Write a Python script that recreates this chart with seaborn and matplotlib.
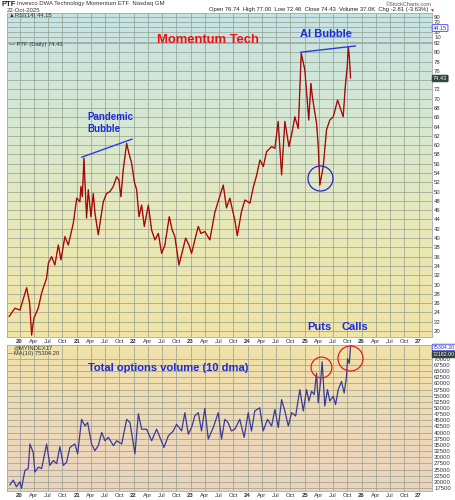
import pandas as pd
import numpy as np
import matplotlib
matplotlib.use("Agg")
import matplotlib.pyplot as plt
import seaborn as sns

# PTF daily close
price_dates = [
    "2019-10-25", "2019-12-02", "2020-01-03", "2020-02-15", "2020-03-05", "2020-03-18",
    "2020-03-25", "2020-04-02", "2020-04-30", "2020-05-21", "2020-06-22", "2020-07-03",
    "2020-07-24", "2020-08-14", "2020-09-05", "2020-09-22", "2020-10-17", "2020-11-08",
    "2020-12-10",
    "2021-01-01", "2021-01-21", "2021-01-28", "2021-02-06", "2021-02-16", "2021-03-05",
    "2021-03-16", "2021-04-02", "2021-04-17", "2021-04-28", "2021-05-19", "2021-06-20",
    "2021-07-11", "2021-08-02", "2021-08-23", "2021-09-14", "2021-09-28", "2021-10-11",
    "2021-10-26", "2021-11-17", "2021-12-01", "2021-12-19",
    "2022-01-05", "2022-01-20", "2022-02-04", "2022-02-21", "2022-03-10", "2022-04-05",
    "2022-04-26", "2022-05-17", "2022-06-08", "2022-06-29", "2022-07-20", "2022-08-17",
    "2022-09-05", "2022-09-22", "2022-10-18", "2022-11-09", "2022-11-30", "2022-12-21",
    "2023-01-07", "2023-02-02", "2023-02-19", "2023-03-08", "2023-04-02", "2023-05-04",
    "2023-06-05", "2023-07-07", "2023-07-29", "2023-08-19", "2023-09-09", "2023-10-11",
    "2023-10-27", "2023-11-23", "2023-12-15",
    "2024-01-16", "2024-02-07", "2024-02-28", "2024-03-20", "2024-04-11", "2024-05-02",
    "2024-06-03", "2024-06-24", "2024-07-15", "2024-08-06", "2024-08-27", "2024-09-22",
    "2024-10-09", "2024-10-30", "2024-11-21", "2024-12-10",
    "2025-01-02", "2025-01-27", "2025-02-10", "2025-02-19", "2025-03-18", "2025-03-29",
    "2025-04-08", "2025-04-30", "2025-05-21", "2025-06-11", "2025-07-03", "2025-07-31",
    "2025-08-21", "2025-09-05", "2025-09-18", "2025-09-30", "2025-10-08", "2025-10-15",
    "2025-10-22",
]
price_close = [
    23.1, 24.9, 24.5, 29.3, 26.0, 19.1,
    21.0, 22.8, 25.0, 28.2, 31.4, 34.6,
    36.0, 34.2, 38.5, 35.3, 40.3, 38.5,
    43.2,
    48.6, 47.8, 51.1, 48.9, 57.2, 44.3,
    50.4, 44.6, 49.6, 45.3, 40.7, 47.8,
    49.6, 50.0, 51.1, 53.2, 52.5, 48.9,
    54.7, 60.4, 58.3, 56.1,
    52.1, 50.4, 44.6, 47.1, 42.5, 47.1,
    41.7, 39.6, 41.0, 36.7, 38.5, 44.6,
    41.7, 40.3, 34.2, 37.1, 40.0, 38.5,
    36.7, 40.3, 42.5, 41.0, 41.4, 39.6,
    45.5, 49.0, 51.4, 46.5, 48.6, 43.9,
    40.5, 45.7, 48.2,
    47.5, 51.0, 53.5, 56.8, 55.4, 58.6,
    59.7, 59.3, 65.1, 53.6, 65.1, 59.7,
    62.2, 66.1, 63.6, 79.8,
    76.2, 65.4, 73.3, 70.4, 64.7, 59.7,
    51.4, 55.4, 63.3, 65.4, 66.1, 69.7,
    67.6, 66.1, 72.6, 76.6, 81.2, 78.5,
    74.43,
]

# total options volume, 10 day moving average
vol_dates = [
    "2019-10-30", "2019-11-21", "2019-12-12", "2020-01-02", "2020-01-13", "2020-02-04",
    "2020-02-25", "2020-03-07", "2020-03-28", "2020-04-08", "2020-04-30", "2020-05-21",
    "2020-06-22", "2020-07-13", "2020-08-04", "2020-08-25", "2020-09-15", "2020-10-07",
    "2020-10-28", "2020-11-18", "2020-12-20",
    "2021-01-07", "2021-02-01", "2021-02-23", "2021-03-12", "2021-04-06", "2021-04-27",
    "2021-05-19", "2021-06-10", "2021-07-01", "2021-07-23", "2021-08-24", "2021-09-14",
    "2021-10-16", "2021-11-17", "2021-12-08",
    "2022-01-09", "2022-01-31", "2022-02-21", "2022-03-25", "2022-04-26", "2022-05-28",
    "2022-06-18", "2022-07-14", "2022-08-11", "2022-09-12", "2022-10-03", "2022-11-04",
    "2022-11-25", "2022-12-17",
    "2023-01-07", "2023-01-28", "2023-02-19", "2023-03-12", "2023-04-02", "2023-04-24",
    "2023-05-26", "2023-06-27", "2023-07-18", "2023-08-08", "2023-08-29", "2023-09-19",
    "2023-10-11", "2023-11-12", "2023-12-10",
    "2024-01-05", "2024-01-26", "2024-02-16", "2024-03-19", "2024-04-10", "2024-05-08",
    "2024-06-03", "2024-06-24", "2024-07-16", "2024-08-06", "2024-08-27", "2024-09-18",
    "2024-10-09", "2024-11-04", "2024-12-01", "2024-12-23",
    "2025-01-13", "2025-01-28", "2025-02-14", "2025-03-03", "2025-03-18", "2025-03-29",
    "2025-04-14", "2025-04-23", "2025-05-10", "2025-05-27", "2025-06-11", "2025-07-03",
    "2025-07-18", "2025-08-04", "2025-08-25", "2025-09-11", "2025-09-26", "2025-10-03",
    "2025-10-14", "2025-10-22",
]
vol_ma10 = [
    18700, 20700, 18000, 20000, 17400, 24700,
    25400, 35400, 32000, 24000, 26000, 25400,
    35400, 26700, 28700, 27400, 34300, 26700,
    28000, 34000, 35400,
    31400, 45400, 42700, 44100, 35400, 32700,
    34700, 40100, 36700, 38100, 34700, 36700,
    35400, 45400, 44100,
    31400, 47700, 41400, 41400, 36700, 41400,
    38100, 34000, 38700, 40700, 43400, 40700,
    48100, 39400,
    42100, 46800, 48100, 40700, 49800, 37400,
    42100, 48100, 37400, 45400, 44100, 40700,
    41400, 45400, 38100,
    48100, 40700, 48800, 50100, 40700, 45400,
    42700, 49400, 42100, 53400, 48800, 42700,
    48100, 46800, 57500, 48800,
    57500, 52800, 56800, 55500, 64100, 52100,
    61500, 68800, 50800, 57500, 52800, 54800,
    51400, 57500, 60800, 56100, 62800, 70100,
    68100, 75300,
]

price = pd.DataFrame({"date": pd.to_datetime(price_dates), "close": price_close})
vol = pd.DataFrame({"date": pd.to_datetime(vol_dates), "ma10": vol_ma10})

sns.set_style("white")
plt.rcParams["font.family"] = ["Liberation Sans", "DejaVu Sans"]

W, H = 455, 500
fig = plt.figure(figsize=(W / 100, H / 100), dpi=100)


def box(x0, y0, x1, y1):
    # pixel box -> figure fraction
    return [x0 / W, 1 - y1 / H, (x1 - x0) / W, (y1 - y0) / H]


def gradient(rect, colors):
    bg = fig.add_axes(rect, zorder=0)
    cm = matplotlib.colors.LinearSegmentedColormap.from_list("g", colors)
    bg.imshow(np.linspace(0, 1, 256).reshape(-1, 1), cmap=cm, aspect="auto",
              extent=[0, 1, 0, 1])
    bg.set_axis_off()


gradient(box(7, 13, 432, 337), ["#c6e3e4", "#d6e8d2", "#e8e8b8", "#f1e4a6"])
gradient(box(7, 345, 432, 491), ["#f1e2a8", "#efdab6", "#ecd3bf"])

ax_rsi = fig.add_axes(box(7, 13, 432, 42), zorder=1)
ax_p = fig.add_axes(box(7, 42, 432, 337), zorder=1)
ax_v = fig.add_axes(box(7, 345, 432, 491), zorder=1)

xmin, xmax = pd.Timestamp("2019-10-12"), pd.Timestamp("2027-03-28")
ticks, labels = [], []
for yr in range(2020, 2028):
    for m, name in [(1, None), (4, "Apr"), (7, "Jul"), (10, "Oct")]:
        t = pd.Timestamp(yr, m, 1)
        if xmin <= t <= xmax:
            ticks.append(t)
            labels.append(name if name else str(yr)[2:])

grid_col = (0.58, 0.62, 0.56, 0.2)
for ax in (ax_rsi, ax_p, ax_v):
    ax.set_facecolor("none")
    ax.set_xlim(xmin, xmax)
    ax.set_xticks(ticks)
    ax.yaxis.tick_right()
    ax.tick_params(axis="both", length=0, labelsize=4.3, pad=1.5, colors="#333333")
    ax.grid(True, color=grid_col, linewidth=0.5)
    for s in ax.spines.values():
        s.set_color("#a4aaa8")
        s.set_linewidth(0.6)

for ax in (ax_p, ax_v):
    ax.set_xticklabels(labels)
    for lab in ax.get_xticklabels():
        if lab.get_text().isdigit():
            lab.set_fontweight("bold")
ax_rsi.set_xticklabels([])

ax_rsi.set_ylim(-10, 104)
ax_rsi.set_yticks([10, 30, 50, 70, 90])
ax_rsi.set_yticklabels(["10", "30", "", "70", "90"])

sns.lineplot(data=price, x="date", y="close", ax=ax_p, color="#d00000",
             linewidth=0.95, zorder=3)
sns.lineplot(data=price, x="date", y="close", ax=ax_p, color="#402828",
             linewidth=0.25, zorder=4)
ax_p.set_ylim(18.7, 82.2)
pticks = np.arange(20, 83, 2)
ax_p.set_yticks(pticks)
ax_p.set_yticklabels(["" if t == 74 else str(t) for t in pticks])
ax_p.set_xlabel("")
ax_p.set_ylabel("")

sns.lineplot(data=vol, x="date", y="ma10", ax=ax_v, color="#3a3a9a",
             linewidth=0.9, zorder=3)
ax_v.set_ylim(16300, 75600)
ax_v.set_yticks(np.arange(17500, 70001, 2500))
ax_v.set_xlabel("")
ax_v.set_ylabel("")

# trend lines and circles
ax_p.plot(pd.to_datetime(["2021-02-01", "2021-12-22"]), [57.4, 61.3],
          color="#2b3bdc", linewidth=1.0, zorder=5)
ax_p.plot(pd.to_datetime(["2024-12-05", "2025-11-23"]), [80.0, 81.35],
          color="#2b3bdc", linewidth=1.0, zorder=5)
ax_p.plot([pd.Timestamp("2025-04-12")], [53.0], marker="o", markersize=18,
          markerfacecolor="none", markeredgecolor="#2424d0", markeredgewidth=0.9,
          zorder=5)
ax_v.plot([pd.Timestamp("2025-04-14")], [66800], marker="o", markersize=15,
          markerfacecolor="none", markeredgecolor="#e02020", markeredgewidth=0.9,
          zorder=5)
ax_v.plot([pd.Timestamp("2025-10-18")], [70400], marker="o", markersize=18,
          markerfacecolor="none", markeredgecolor="#e02020", markeredgewidth=0.9,
          zorder=5)


def ftxt(x, y, s, **kw):
    fig.text(x / W, 1 - y / H, s, **kw)


# annotations
ftxt(208, 40, "Momentum Tech", color="#ee1111", fontsize=9.4, fontweight="bold",
     ha="center", va="center")
ftxt(326, 34, "AI Bubble", color="#1a2ae0", fontsize=8, fontweight="bold",
     ha="center", va="center")
ftxt(87, 117, "Pandemic", color="#1a2ae0", fontsize=7, fontweight="bold", va="center")
ftxt(87, 128.5, "Bubble", color="#1a2ae0", fontsize=7, fontweight="bold", va="center")
ftxt(307, 327, "Puts", color="#1a2ae0", fontsize=8, fontweight="bold", va="center")
ftxt(341, 327, "Calls", color="#1a2ae0", fontsize=8, fontweight="bold", va="center")
ftxt(88, 368, "Total options volume (10 dma)", color="#1a2ae0", fontsize=8,
     fontweight="bold", va="center")

# header
ftxt(2, 4, "PTF", fontsize=5.5, fontweight="bold", va="center", color="#222222")
ftxt(17, 4, "Invesco DWA Technology Momentum ETF  Nasdaq GM", fontsize=4.3,
     va="center", color="#333333")
ftxt(7, 10, "22-Oct-2025", fontsize=4.3, va="center", color="#333333")
ftxt(432, 4, "\u00a9StockCharts.com", fontsize=4.0, va="center", ha="right",
     color="#555555")
ftxt(428, 10, "Open 76.74  High 77.00  Low 72.46  Close 74.43  Volume 37.0K  "
     "Chg -2.81 (-3.63%)", fontsize=4.2, va="center", ha="right", color="#222222")
ftxt(429, 10, "\u25bc", fontsize=3.5, va="center", color="#dd2222")

# panel legends
ftxt(9, 15.5, "\u25b2RSI(14) 44.15", fontsize=4.2, va="center", color="#333333")
ftxt(9, 44.5, "\u2014 PTF (Daily) 74.43", fontsize=4.2, va="center", color="#333333")
ftxt(14, 347.5, "@MYINDEX17", fontsize=4.2, va="center", color="#333333")
ftxt(8, 353, "\u2014MA(10) 75304.20", fontsize=4.2, va="center", color="#333333")

# last value tags
tag_blue = dict(boxstyle="round,pad=0.15", fc="white", ec="#3a3aee", lw=0.6)
tag_dark = dict(boxstyle="round,pad=0.15", fc="#2d3f3f", ec="#2d3f3f", lw=0.6)
ftxt(433, 28, "44.15", fontsize=4.0, va="center", color="#2233aa", bbox=tag_blue)
ftxt(433, 78.5, "74.43", fontsize=4.0, va="center", color="white", bbox=tag_dark)
ftxt(433, 347.5, "75304.20", fontsize=3.8, va="center", color="#2233aa", bbox=tag_blue)
ftxt(433, 354.5, "72182.00", fontsize=3.8, va="center", color="white", bbox=tag_dark)

fig.savefig("out.png", dpi=100)
